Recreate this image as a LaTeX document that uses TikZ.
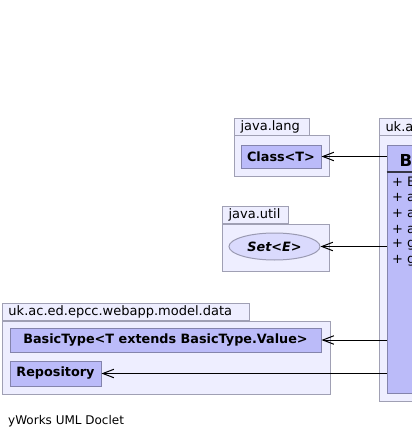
\documentclass[tikz,border=0pt]{standalone}
\usepackage{fontspec}
\setmainfont{DejaVu Sans}
\usepackage{xcolor}
\usepackage{tikz}
\usetikzlibrary{arrows.meta,positioning,shapes.geometric}
\definecolor{pkgfill}{HTML}{EEEEFF}
\definecolor{pkgline}{HTML}{A0A0B4}
\definecolor{clsfill}{HTML}{BBBBF9}
\definecolor{clsline}{HTML}{8484AC}
\tikzset{
  pkgtab/.style={rectangle,draw=pkgline,fill=pkgfill,line width=1pt,anchor=south west,
    minimum height=17pt,inner xsep=6pt,inner ysep=0pt,text width=#1,align=left,
    font=\fontsize{13}{15}\selectfont},
  pkgbody/.style={rectangle,draw=pkgline,fill=pkgfill,line width=1pt,inner sep=0pt},
  clsnode/.style={rectangle,draw=clsline,fill=clsfill,line width=1pt,inner sep=0pt,
    font=\fontsize{12.8}{15}\selectfont\bfseries},
  ifcnode/.style={ellipse,draw=pkgline!80!clsline,fill=pkgfill!60!clsfill,line width=1pt,inner sep=0pt,
    font=\fontsize{12.8}{15}\selectfont\bfseries\itshape},
  membtext/.style={anchor=west,inner sep=0pt,font=\fontsize{13}{15}\selectfont},
  depedge/.style={-{Straight Barb[length=11pt,width=8.5pt]},line width=1pt,black},
}

\begin{document}
\begin{tikzpicture}[x=1pt,y=-1pt]
  \useasboundingbox[fill=white] (0,0) rectangle (412,439);
  \clip (0,0) rectangle (412,439);
  % packages
  \node[pkgtab=63pt] (tLang) at (234,136) {java.lang};
  \node[pkgbody,minimum width=95pt,minimum height=41pt] (pLang) at (281.5,155.5) {};
  \node[pkgtab=54pt] (tUtil) at (222,224) {java.util};
  \node[pkgbody,minimum width=107pt,minimum height=47pt] (pUtil) at (275.5,247.5) {};
  \node[pkgtab=235pt] (tData) at (2,321) {uk.ac.ed.epcc.webapp.model.data};
  \node[pkgbody,minimum width=328pt,minimum height=73pt] (pData) at (166,357.5) {};
  \node[pkgtab=70pt] (tMain) at (379,136) {uk.a};
  \node[pkgbody,minimum width=81pt,minimum height=266pt] (pMain) at (419.5,268) {};
  % classes
  \node[clsnode,minimum width=80pt,minimum height=23pt] (clsT) at (281,156.5) {Class<T>};
  \node[ifcnode,minimum width=91pt,minimum height=27pt] (setE) at (274.5,246.5) {Set<E>};
  \node[clsnode,minimum width=311pt,minimum height=24pt] (basicT) at (165.5,340) {BasicType<T extends BasicType.Value>};
  \node[clsnode,minimum width=91pt,minimum height=25pt] (repo) at (55.5,373.5) {Repository};
  \node[clsnode,minimum width=73pt,minimum height=248pt] (bigcls) at (423.5,269) {};
  \node[anchor=west,inner sep=0pt,font=\fontsize{16.5}{18}\selectfont\bfseries] (bigname) at (399.5,160) {B};
  \draw[clsline!40!black,line width=2pt] (bigcls.west |- 0,172) -- (bigcls.east |- 0,172);
  \node[membtext] (m1) at (392,182) {+ B};
  \node[membtext] (m2) at (392,197.8) {+ a};
  \node[membtext] (m3) at (392,213.6) {+ a};
  \node[membtext] (m4) at (392,229.4) {+ a};
  \node[membtext] (m5) at (392,245.2) {+ g};
  \node[membtext] (m6) at (392,261) {+ g};
  % dependencies
  \draw[depedge] (bigcls.west |- clsT.east) -- (clsT.east);
  \draw[depedge] (bigcls.west |- setE.east) -- (setE.east);
  \draw[depedge] (bigcls.west |- basicT.east) -- (basicT.east);
  \draw[depedge] (bigcls.west |- repo.east) -- (repo.east);
  \node[anchor=west,inner sep=0pt,font=\fontsize{12}{14}\selectfont] (credit) at (8,421) {yWorks UML Doclet};
\end{tikzpicture}
\end{document}
